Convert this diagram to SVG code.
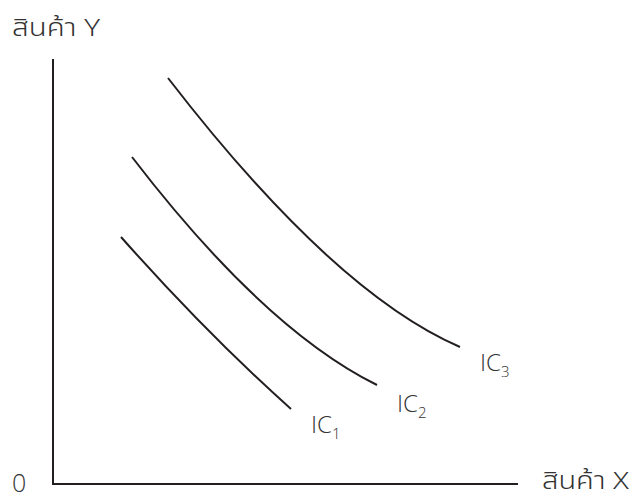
<svg xmlns="http://www.w3.org/2000/svg" width="638" height="500" viewBox="0 0 638 500">
<style>
.ln{fill:none;stroke:#231f20;stroke-width:2}
.t{font-family:"Open Sans","Noto Sans",sans-serif;font-size:24px;fill:#333;font-weight:300}
.th{font-family:"Noto Sans Thai","Open Sans",sans-serif;font-size:24px;fill:#333;font-weight:300}
.s{font-size:15px}
</style>
<rect width="638" height="500" fill="#fff"/>
<g id="axes">
<path class="ln" d="M53,59 V484 H518"/>
</g>
<g id="connectors">
<path id="ic1-curve" class="ln" d="M121,237 Q207,334 291,409"/>
<path id="ic2-curve" class="ln" d="M132,157 Q264,329 377,385"/>
<path id="ic3-curve" class="ln" d="M168,78 Q333,292 460,347"/>
</g>
<g id="label-y"><text class="th" x="12" y="36" textLength="88" lengthAdjust="spacingAndGlyphs">สินค้า Y</text></g>
<g id="label-x"><text class="th" x="542" y="489" textLength="87" lengthAdjust="spacingAndGlyphs">สินค้า X</text></g>
<g id="label-0"><text class="t" x="12" y="492" style="font-size:25px">0</text></g>
<g id="ic1"><text class="t" x="311" y="433">IC<tspan class="s" dy="6">1</tspan></text></g>
<g id="ic2"><text class="t" x="397" y="412">IC<tspan class="s" dy="6">2</tspan></text></g>
<g id="ic3"><text class="t" x="480" y="371">IC<tspan class="s" dy="6">3</tspan></text></g>
</svg>
